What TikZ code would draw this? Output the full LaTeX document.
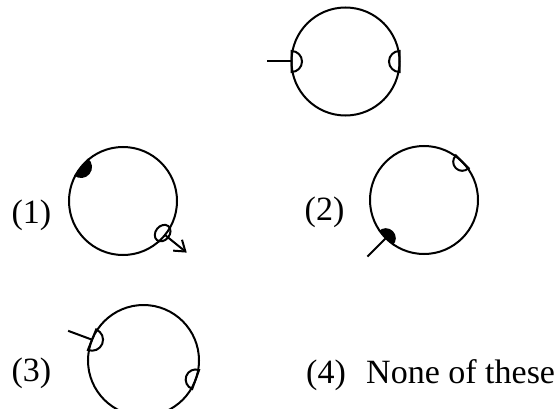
\documentclass[tikz,border=0pt]{standalone}
\usepackage{fontspec}
\setmainfont{Liberation Serif}
\usetikzlibrary{arrows.meta}
% half cup sitting on the rim of a ring node: node, angle, radius, path options
\newcommand{\halfcup}[4]{%
    \path[#4, shift={(#1.#2)}, rotate=#2]
        (0, #3) arc[start angle=90, end angle=270, radius=#3] -- cycle;
}

\begin{document}
\begin{tikzpicture}[
    x=1pt, y=1pt,
    ring/.style={draw, circle, line width=2pt, minimum size=108pt,
        inner sep=0pt, outer sep=0pt},
    lead/.style={line width=2pt},
    cupline/.style={draw, line width=2pt},
    lbl/.style={font=\fontsize{34}{40}\selectfont, inner sep=0pt}
]
\useasboundingbox (0, 0) rectangle (557, 408);

% ---- Frage (oben) ----
\node[ring] (c0) at (345.5, 346.5) {};
\coordinate (lead0) at ([shift={(180:78.5pt)}]c0.center);
\draw[lead] (lead0) -- (c0.180);
\halfcup{c0}{180}{10.5}{cupline}
\halfcup{c0}{0}{10.5}{cupline}

% ---- (1) ----
\node[lbl] (lbl1) at (31.5, 192.5) {(1)};
\node[ring] (c1) at (123, 207) {};
\halfcup{c1}{141}{11}{fill}
\draw[line width=2pt, shift={(c1.-39)}, rotate=-39]
    (-3, 0) ellipse[x radius=7, y radius=9];
\coordinate (arr1) at ([shift={(-39:82pt)}]c1.center);
\draw[lead, -{Straight Barb[length=10pt, width=14pt]}] (c1.-39) -- (arr1);

% ---- (2) ----
\node[lbl] (lbl2) at (324.5, 195.5) {(2)};
\node[ring] (c2) at (424, 208) {};
\halfcup{c2}{45}{9}{cupline}
\halfcup{c2}{225}{10}{fill}
\coordinate (lead2) at ([shift={(225:80pt)}]c2.center);
\draw[lead] (lead2) -- (c2.225);

% ---- (3) ----
\node[lbl] (lbl3) at (31.5, 35) {(3)};
\node[ring, minimum size=111pt] (c3) at (143.5, 47.5) {};
\halfcup{c3}{158}{11}{cupline}
\halfcup{c3}{-20}{10}{cupline}
\coordinate (lead3) at ([shift={(158.5:81pt)}]c3.center);
\draw[lead] (lead3) -- (c3.158);

% ---- (4) ----
\node[lbl, anchor=west] (opt4) at (306, 32.5) {(4)\hspace{0.6em}None of these};

\end{tikzpicture}
\end{document}
